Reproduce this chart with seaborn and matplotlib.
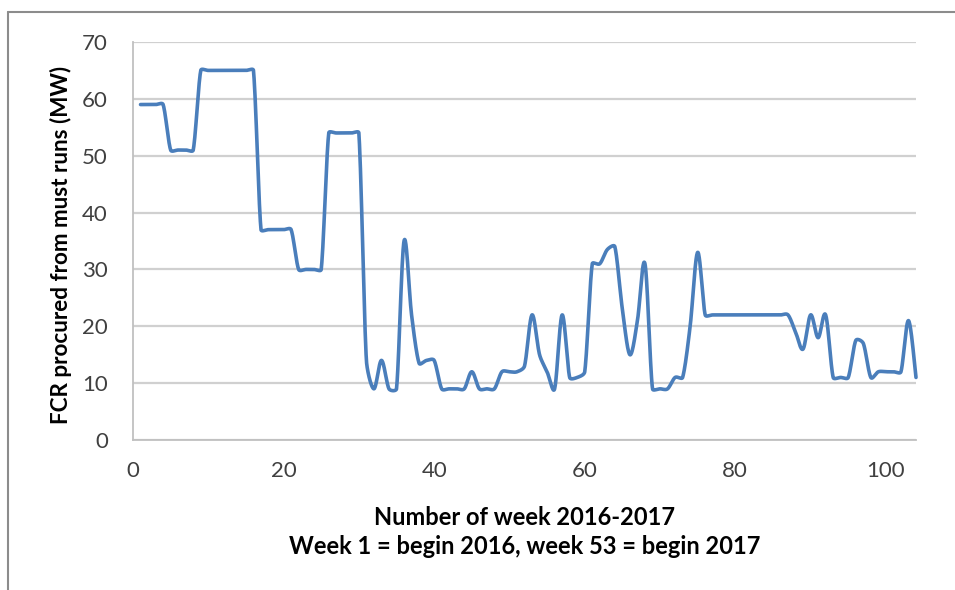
import numpy as np
import pandas as pd
import seaborn as sns
import matplotlib.pyplot as plt
from matplotlib.lines import Line2D

# weekly FCR procured from must runs (MW), weeks 1..104
weeks = list(range(1, 105))
fcr_mw = [
    59, 59, 59, 59, 51, 51, 51, 51, 65, 65,      # 1-10
    65, 65, 65, 65, 65, 65, 37, 37, 37, 37,      # 11-20
    37, 30, 30, 30, 30, 54, 54, 54, 54, 54,      # 21-30
    14, 9, 14, 9, 9, 35, 22, 13.5, 14, 14,       # 31-40
    9, 9, 9, 9, 12, 9, 9, 9, 12, 12,             # 41-50
    12, 13, 22, 15, 12, 9, 22, 11, 11, 12,       # 51-60
    31, 31, 33.5, 34, 23, 15, 21, 31, 9, 9,      # 61-70
    9, 11, 11, 20, 33, 22, 22, 22, 22, 22,       # 71-80
    22, 22, 22, 22, 22, 22, 22, 19, 16, 22,      # 81-90
    18, 22, 11, 11, 11, 17.5, 17, 11, 12, 12,    # 91-100
    12, 12, 21, 11,                              # 101-104
]
x_ticks = [0, 20, 40, 60, 80, 100]
y_ticks = [0, 10, 20, 30, 40, 50, 60, 70]


def smooth(x, y, aspect=0.755, g=0.35, n=24):
    # Catmull-Rom Bezier with handles clamped to the segment length (Excel-like)
    p = np.column_stack([np.asarray(x, float), np.asarray(y, float) * aspect])
    m = len(p)
    d = np.array([(p[min(i + 1, m - 1)] - p[max(i - 1, 0)]) / 6 for i in range(m)])
    t = np.linspace(0, 1, n, endpoint=False)[:, None]
    out = []
    for i in range(m - 1):
        a, b = p[i], p[i + 1]
        L = np.hypot(*(b - a))
        h1, h2 = d[i].copy(), d[i + 1].copy()
        for h in (h1, h2):
            hl = np.hypot(*h)
            if hl > g * L:
                h *= g * L / hl
        c1 = a + h1
        c2 = b - h2
        out.append((1 - t) ** 3 * a + 3 * (1 - t) ** 2 * t * c1
                   + 3 * (1 - t) * t ** 2 * c2 + t ** 3 * b)
    out.append(p[-1:])
    out = np.vstack(out)
    return out[:, 0], out[:, 1] / aspect


sx, sy = smooth(weeks, fcr_mw)
df = pd.DataFrame({"week": sx, "fcr": sy})

sns.set_style("white")
plt.rcParams["font.family"] = ["Lato", "DejaVu Sans"]

fig = plt.figure(figsize=(9.55, 5.9), dpi=100)
ax = fig.add_axes([133 / 955, 1 - 440 / 590, (916 - 133) / 955, (440 - 42) / 590])

sns.lineplot(data=df, x="week", y="fcr", sort=False, estimator=None,
             color="#4a7ebb", linewidth=2.6, ax=ax, clip_on=False)

ax.set_xlim(0, 104)
ax.set_ylim(0, 70)
ax.set_xticks(x_ticks)
ax.set_yticks(y_ticks)
ax.grid(axis="y", color="#d0d0d0", linewidth=1.6)
ax.set_axisbelow(True)
for s in ["top", "right"]:
    ax.spines[s].set_visible(False)
for s in ["left", "bottom"]:
    ax.spines[s].set_color("#c0c0c0")
    ax.spines[s].set_linewidth(1.3)
ax.tick_params(axis="both", direction="out", length=7, width=1.3,
               color="#c0c0c0", labelcolor="#404040", labelsize=16)
ax.tick_params(axis="x", pad=8)
ax.tick_params(axis="y", pad=11)

ax.set_ylabel("FCR procured from must runs (MW)", fontsize=16.2,
              fontweight="bold", color="black")
ax.yaxis.set_label_coords(-0.078, 0.49)
ax.set_xlabel("Number of week 2016-2017\nWeek 1 = begin 2016, week 53 = begin 2017",
              fontsize=17, fontweight="bold", color="black", labelpad=18,
              linespacing=1.35)

# outer chart frame (cropped on right and bottom)
fig.add_artist(Line2D([8 / 955, 8 / 955], [0, 1 - 12 / 590],
                      transform=fig.transFigure, color="#8c8c8c", linewidth=1.5))
fig.add_artist(Line2D([8 / 955, 1], [1 - 12 / 590, 1 - 12 / 590],
                      transform=fig.transFigure, color="#8c8c8c", linewidth=1.5))

fig.savefig("out.png", dpi=100)
